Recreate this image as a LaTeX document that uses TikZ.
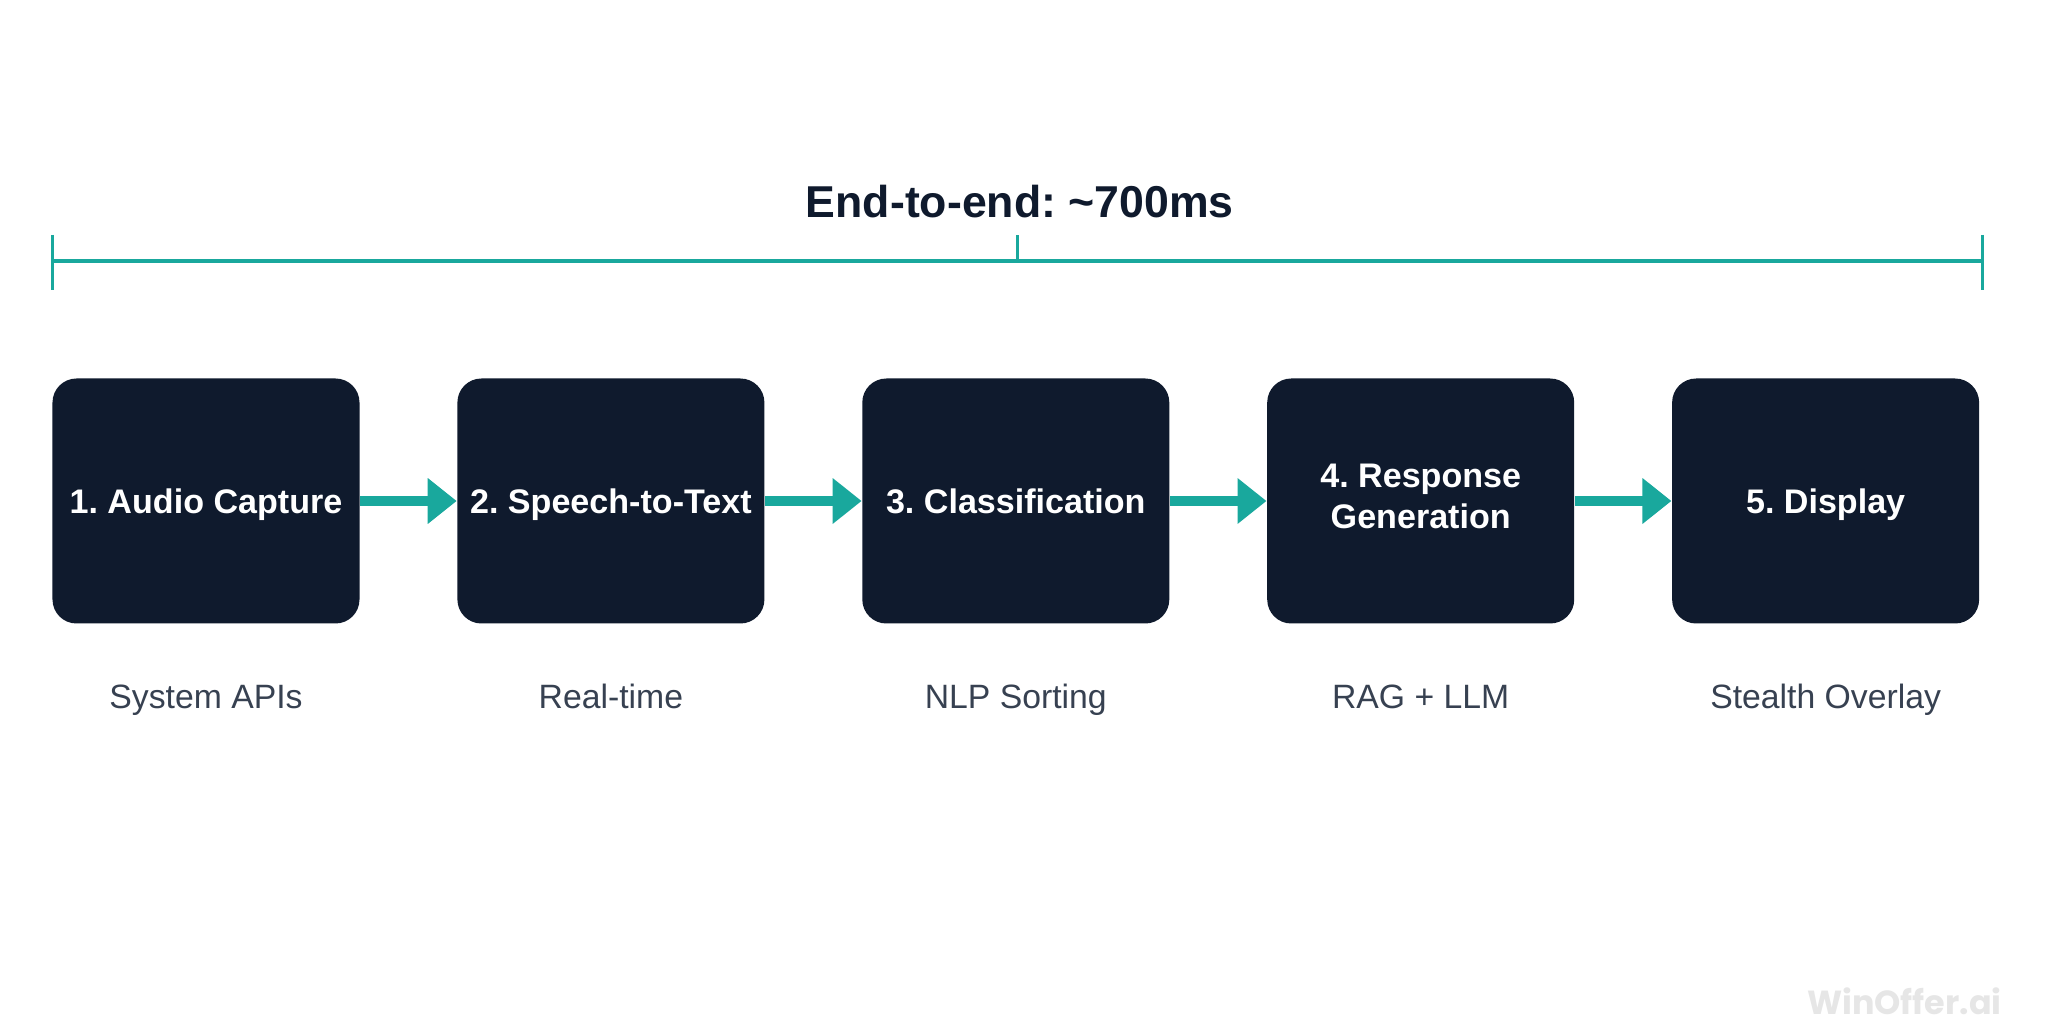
\documentclass[tikz,border=0pt]{standalone}
\usepackage{fontspec}
\setmainfont{Liberation Sans}
\newfontfamily\markfont{Poppins}
\usetikzlibrary{positioning,arrows.meta,calc}
\definecolor{navy}{HTML}{0F1A2D}
\definecolor{tealline}{HTML}{19A89D}
\definecolor{subgray}{HTML}{374151}
\definecolor{markgray}{HTML}{E6E6E6}
\frenchspacing
\newcommand{\boxstrut}{\rule[-2.5pt]{0pt}{12pt}}

\begin{document}
\begin{tikzpicture}[
  stage/.style={rounded corners=0.24cm, fill=navy, text=white, minimum width=3.07cm, minimum height=2.45cm, align=center, inner sep=2pt, font=\fontsize{9.7}{11.6}\selectfont\bfseries, execute at begin node=\boxstrut, execute at end node=\boxstrut},
  sub/.style={text=subgray, font=\fontsize{9.6}{11}\selectfont, inner sep=0pt},
  flow/.style={tealline, line width=2.9pt, -{Triangle[length=0.29cm, width=0.44cm]}},
  span/.style={tealline, line width=1.1pt},
  tick/.style={tealline, line width=0.8pt}
]
\useasboundingbox[fill=white] (0,0) rectangle (20.48,10.24);

% stages
\node[stage] (s1) at (2.06,5.23) {1. Audio Capture};
\node[stage, right=0.965cm of s1] (s2) {2. Speech-to-Text};
\node[stage, right=0.965cm of s2] (s3) {3. Classification};
\node[stage, right=0.965cm of s3] (s4) {4. Response\\Generation};
\node[stage, right=0.965cm of s4] (s5) {5. Display};

\draw[flow] (s1) -- (s2);
\draw[flow] (s2) -- (s3);
\draw[flow] (s3) -- (s4);
\draw[flow] (s4) -- (s5);

% captions
\node[sub, below=0.84cm of s1.south, anchor=base] (c1) {System APIs};
\node[sub, below=0.84cm of s2.south, anchor=base] (c2) {Real-time};
\node[sub, below=0.84cm of s3.south, anchor=base] (c3) {NLP Sorting};
\node[sub, below=0.84cm of s4.south, anchor=base] (c4) {RAG + LLM};
\node[sub, below=0.84cm of s5.south, anchor=base] (c5) {Stealth Overlay};

% end-to-end span
\coordinate (spanL) at ($(s1.west |- 0,7.63)+(0.01,0)$);
\coordinate (spanR) at ($(s5.east |- 0,7.63)+(0.03,0)$);
\coordinate (spanM) at ($(spanL)!0.5!(spanR)$);
\draw[span] (spanL) -- (spanR);
\draw[tick] ($(spanL)+(0,0.26)$) -- ($(spanL)+(0,-0.29)$);
\draw[tick] ($(spanR)+(0,0.26)$) -- ($(spanR)+(0,-0.29)$);
\draw[tick] (spanM) -- ++(0,0.26);
\node[text=navy, font=\fontsize{12.7}{15}\selectfont\bfseries] (total) at ($(spanM)+(0.02,0.59)$) {End-to-end: \textasciitilde700ms};

\node[text=markgray, font=\markfont\bfseries\fontsize{9.5}{11}\selectfont, anchor=east] (mark) at (20.14,0.23) {WinOffer.ai};
\end{tikzpicture}
\end{document}
